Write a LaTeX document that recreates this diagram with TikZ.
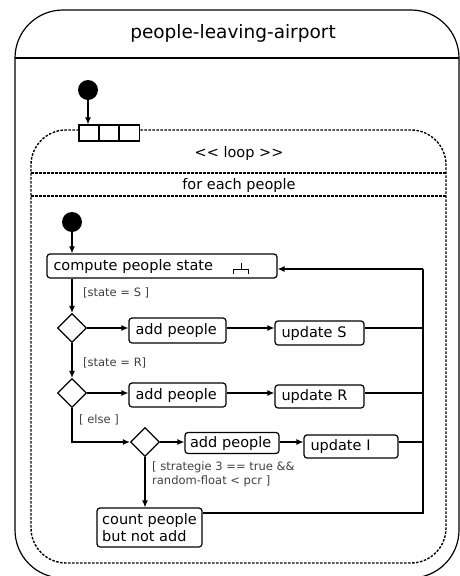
\documentclass[tikz,border=0pt]{standalone}
\usepackage{fontspec}
\setmainfont{DejaVu Sans}
\usetikzlibrary{arrows.meta,shapes.geometric,calc}
\begin{document}
\begin{tikzpicture}[x=1pt,y=-1pt,
 box/.style={draw,line width=1.2pt,rounded corners=3pt,inner xsep=6.5pt,inner ysep=0pt,align=left,font=\fontsize{14.5}{17.5}\selectfont,execute at begin node={\hyphenpenalty=10000 }},
 dec/.style={draw,diamond,line width=1.2pt,minimum width=29pt,minimum height=29pt,inner sep=0pt},
 init/.style={circle,fill=black,minimum size=20pt,inner sep=0pt},
 flow/.style={line width=1.2pt,-{Latex[length=7pt,width=6pt]}},
 plain/.style={line width=1.2pt},
 guard/.style={font=\fontsize{11.5}{14}\selectfont,text=black!75,inner sep=0pt,anchor=west,align=left},
 dsh/.style={line width=1.4pt,dash pattern=on 2.5pt off 1.5pt},
 pinbox/.style={draw,fill=white,line width=1.2pt,minimum width=20pt,minimum height=16pt,inner sep=0pt},
 heading/.style={font=\fontsize{14.5}{17.5}\selectfont}
]
\useasboundingbox (0,0) rectangle (460,576);
\fill[white] (0,0) rectangle (460,576);

% outer activity frame
\draw[line width=1.2pt,rounded corners=48pt] (15,10) rectangle (459,578);
\draw[line width=1.2pt] (15,58) -- (459,58);
\node[font=\fontsize{18.5}{22}\selectfont] (title) at (233,33) {people-leaving-airport};

% loop region
\draw[dsh,rounded corners=35pt] (31,130) rectangle (446,563);
\draw[dsh] (31,173) -- (446,173);
\draw[dsh] (31,196) -- (446,196);
\node[heading] (looplbl) at (239,153) {<\kern0pt< loop >\kern0pt>};
\node[heading] (eachlbl) at (239,185) {for each people};

% pins
\node[pinbox] (pin1) at (89,133) {};
\node[pinbox] (pin2) at (109,133) {};
\node[pinbox] (pin3) at (129.5,133) {};

% initial nodes
\node[init] (start) at (88,90) {};
\draw[flow] (start) -- (start |- pin1.north);
\node[init] (start2) at (72,222) {};

% actions
\node[box,text width=217pt,minimum height=24pt] (compute) at (162,266) {compute people state};
\draw[line width=1pt] (241,263) -- (241,269) (233.5,274) -- (233.5,269) -- (248.5,269) -- (248.5,274);

\node[dec] (d1) at (72,328) {};
\node[dec] (d2) at (72,393) {};
\node[dec] (d3) at (145,442) {};

\node[box,text width=84pt,minimum height=25pt] (add1) at (177.5,330.5) {add people};
\node[box,text width=76pt,minimum height=24pt] (upS) at (319.5,333) {update S};
\node[box,text width=84pt,minimum height=24pt] (add2) at (177.5,395) {add people};
\node[box,text width=76pt,minimum height=23pt] (upR) at (319.5,396.5) {update R};
\node[box,inner xsep=5pt,text width=84pt,minimum height=21pt] (add3) at (232,443) {add people};
\node[box,text width=81pt,minimum height=23pt] (upI) at (351,446.5) {update I};
\node[box,inner xsep=0pt,minimum width=105pt,minimum height=39pt] (count) at (149.5,527.5) {count people\\but not add};

% rail
\coordinate (railtop) at (423,269);
\coordinate (railbot) at (423,513);

% connectors
\draw[flow] (start2) -- (start2 |- compute.north);
\draw[flow] (compute.south -| d1) -- (d1.north);
\node[guard] (g1) at (83,293) {[state = S ]};
\draw[flow] (d1.east) -- (d1.east -| add1.west);
\draw[flow] (add1.east |- d1) -- (upS.west |- d1);
\draw[plain] (upS.east |- d1) -- (railtop |- d1);

\draw[flow] (d1.south) -- (d2.north);
\node[guard] (g2) at (83,363) {[state = R]};
\draw[flow] (d2.east) -- (d2.east -| add2.west);
\draw[flow] (add2.east |- d2) -- (upR.west |- d2);
\draw[plain] (upR.east |- d2) -- (railtop |- d2);

\draw[flow] (d2.south) -- (d2.south |- d3) -- (d3.west);
\node[guard] (g3) at (79,420) {[ else ]};
\draw[flow] (d3.east) -- (d3.east -| add3.west);
\draw[flow] (add3.east |- d3) -- (upI.west |- d3);
\draw[plain] (upI.east |- d3) -- (railtop |- d3);

\draw[flow] (d3.south) -- (d3.south |- count.north);
\node[guard,anchor=north west] (g4) at (152,462) {[ strategie 3 == true \&\&\\random-float < pcr ]};

\draw[plain] (count.east |- railbot) -- (railbot) -- (railtop);
\draw[flow] (railtop) -- (railtop -| compute.east);
\end{tikzpicture}
\end{document}
